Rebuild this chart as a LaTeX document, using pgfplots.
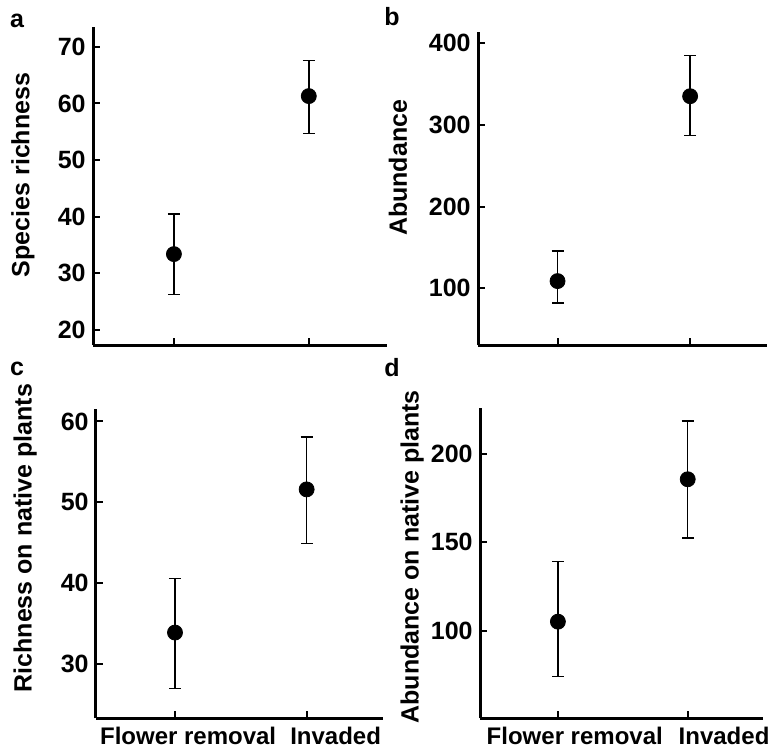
\documentclass[border=0pt,12pt]{standalone}
\usepackage{fontspec}
\setmainfont{Liberation Sans}
\usepackage{pgfplots}
\pgfplotsset{compat=1.18}

\newcommand{\lblfont}{\fontsize{12.5}{15}\selectfont\bfseries}
\newcommand{\catfont}{\fontsize{12}{14}\selectfont\bfseries}

\pgfplotsset{
  panel/.style={
    scale only axis,
    axis x line=bottom, axis y line=left,
    axis line style={line width=1.5pt, -},
    x axis line style={-}, y axis line style={-},
    every tick/.style={black, line width=1pt},
    tick align=inside,
    major tick length=3.5pt,
    xmin=0.4, xmax=2.58,
    xtick={1,2}, xticklabels={},
    extra x tick style={major tick length=0pt},
    tick label style={font=\lblfont},
    xticklabel style={font=\catfont},
    /pgf/number format/assume math mode=true,
    yticklabel style={xshift=0.5pt},
    label style={font=\lblfont},
    clip=false,
  },
  dots/.style={only marks, mark=*, mark size=3.75pt, black,
    error bars/.cd, y dir=both, y explicit,
    error bar style={line width=0.75pt, black},
    error mark options={rotate=90, mark size=3pt, line width=0.75pt, black}},
}

\begin{document}
\begin{tikzpicture}
\useasboundingbox (0pt,0pt) rectangle (387pt,376pt);

% a
\begin{axis}[panel, at={(46.5pt,203.5pt)}, anchor=south west,
  width=147pt, height=159pt,
  ymin=17.35, ymax=73.5, ytick={20,30,40,50,60,70},
  ylabel={Species richness},
  ylabel style={at={(axis description cs:-0.238,0.535)}, anchor=center}]
\addplot[dots] coordinates {
  (1,33.4) += (0,7.1) -= (0,7.1)
  (2,61.3) += (0,6.3) -= (0,6.6)};
\end{axis}

% b
\begin{axis}[panel, at={(239pt,203.5pt)}, anchor=south west,
  width=144.5pt, height=156.7pt,
  ymin=30.6, ymax=414, ytick={100,200,300,400},
  ylabel={Abundance},
  ylabel style={at={(axis description cs:-0.277,0.565)}, anchor=center}]
\addplot[dots] coordinates {
  (1,108.8) += (0,36.7) -= (0,27)
  (2,335) += (0,49.8) -= (0,48.4)};
\end{axis}

% c
\begin{axis}[panel, at={(48pt,16.85pt)}, anchor=south west,
  width=143.5pt, height=154.5pt,
  ymin=23.3, ymax=61.5, ytick={30,40,50,60},
  extra x ticks={1.10,2.22},
  extra x tick labels={Flower removal,Invaded},
  ylabel={Richness on native plants},
  ylabel style={at={(axis description cs:-0.247,0.583)}, anchor=center}]
\addplot[dots] coordinates {
  (1,33.9) += (0,6.7) -= (0,6.9)
  (2,51.6) += (0,6.5) -= (0,6.7)};
\end{axis}

% d
\begin{axis}[panel, at={(240pt,16.85pt)}, anchor=south west,
  width=141.5pt, height=155.3pt,
  ymin=50.4, ymax=226.2, ytick={100,150,200},
  extra x ticks={1.13,2.28},
  extra x tick labels={Flower removal,Invaded},
  ylabel={Abundance on native plants},
  ylabel style={at={(axis description cs:-0.24,0.52)}, anchor=center}]
\addplot[dots] coordinates {
  (1,105.1) += (0,34.1) -= (0,31.1)
  (2,185.7) += (0,33) -= (0,33.2)};
\end{axis}

\node[font=\lblfont, anchor=base] at (8.5pt,362.5pt) {a};
\node[font=\lblfont, anchor=base] at (196pt,363pt) {b};
\node[font=\lblfont, anchor=base] at (8.5pt,188.5pt) {c};
\node[font=\lblfont, anchor=base] at (196pt,188pt) {d};
\end{tikzpicture}
\end{document}
